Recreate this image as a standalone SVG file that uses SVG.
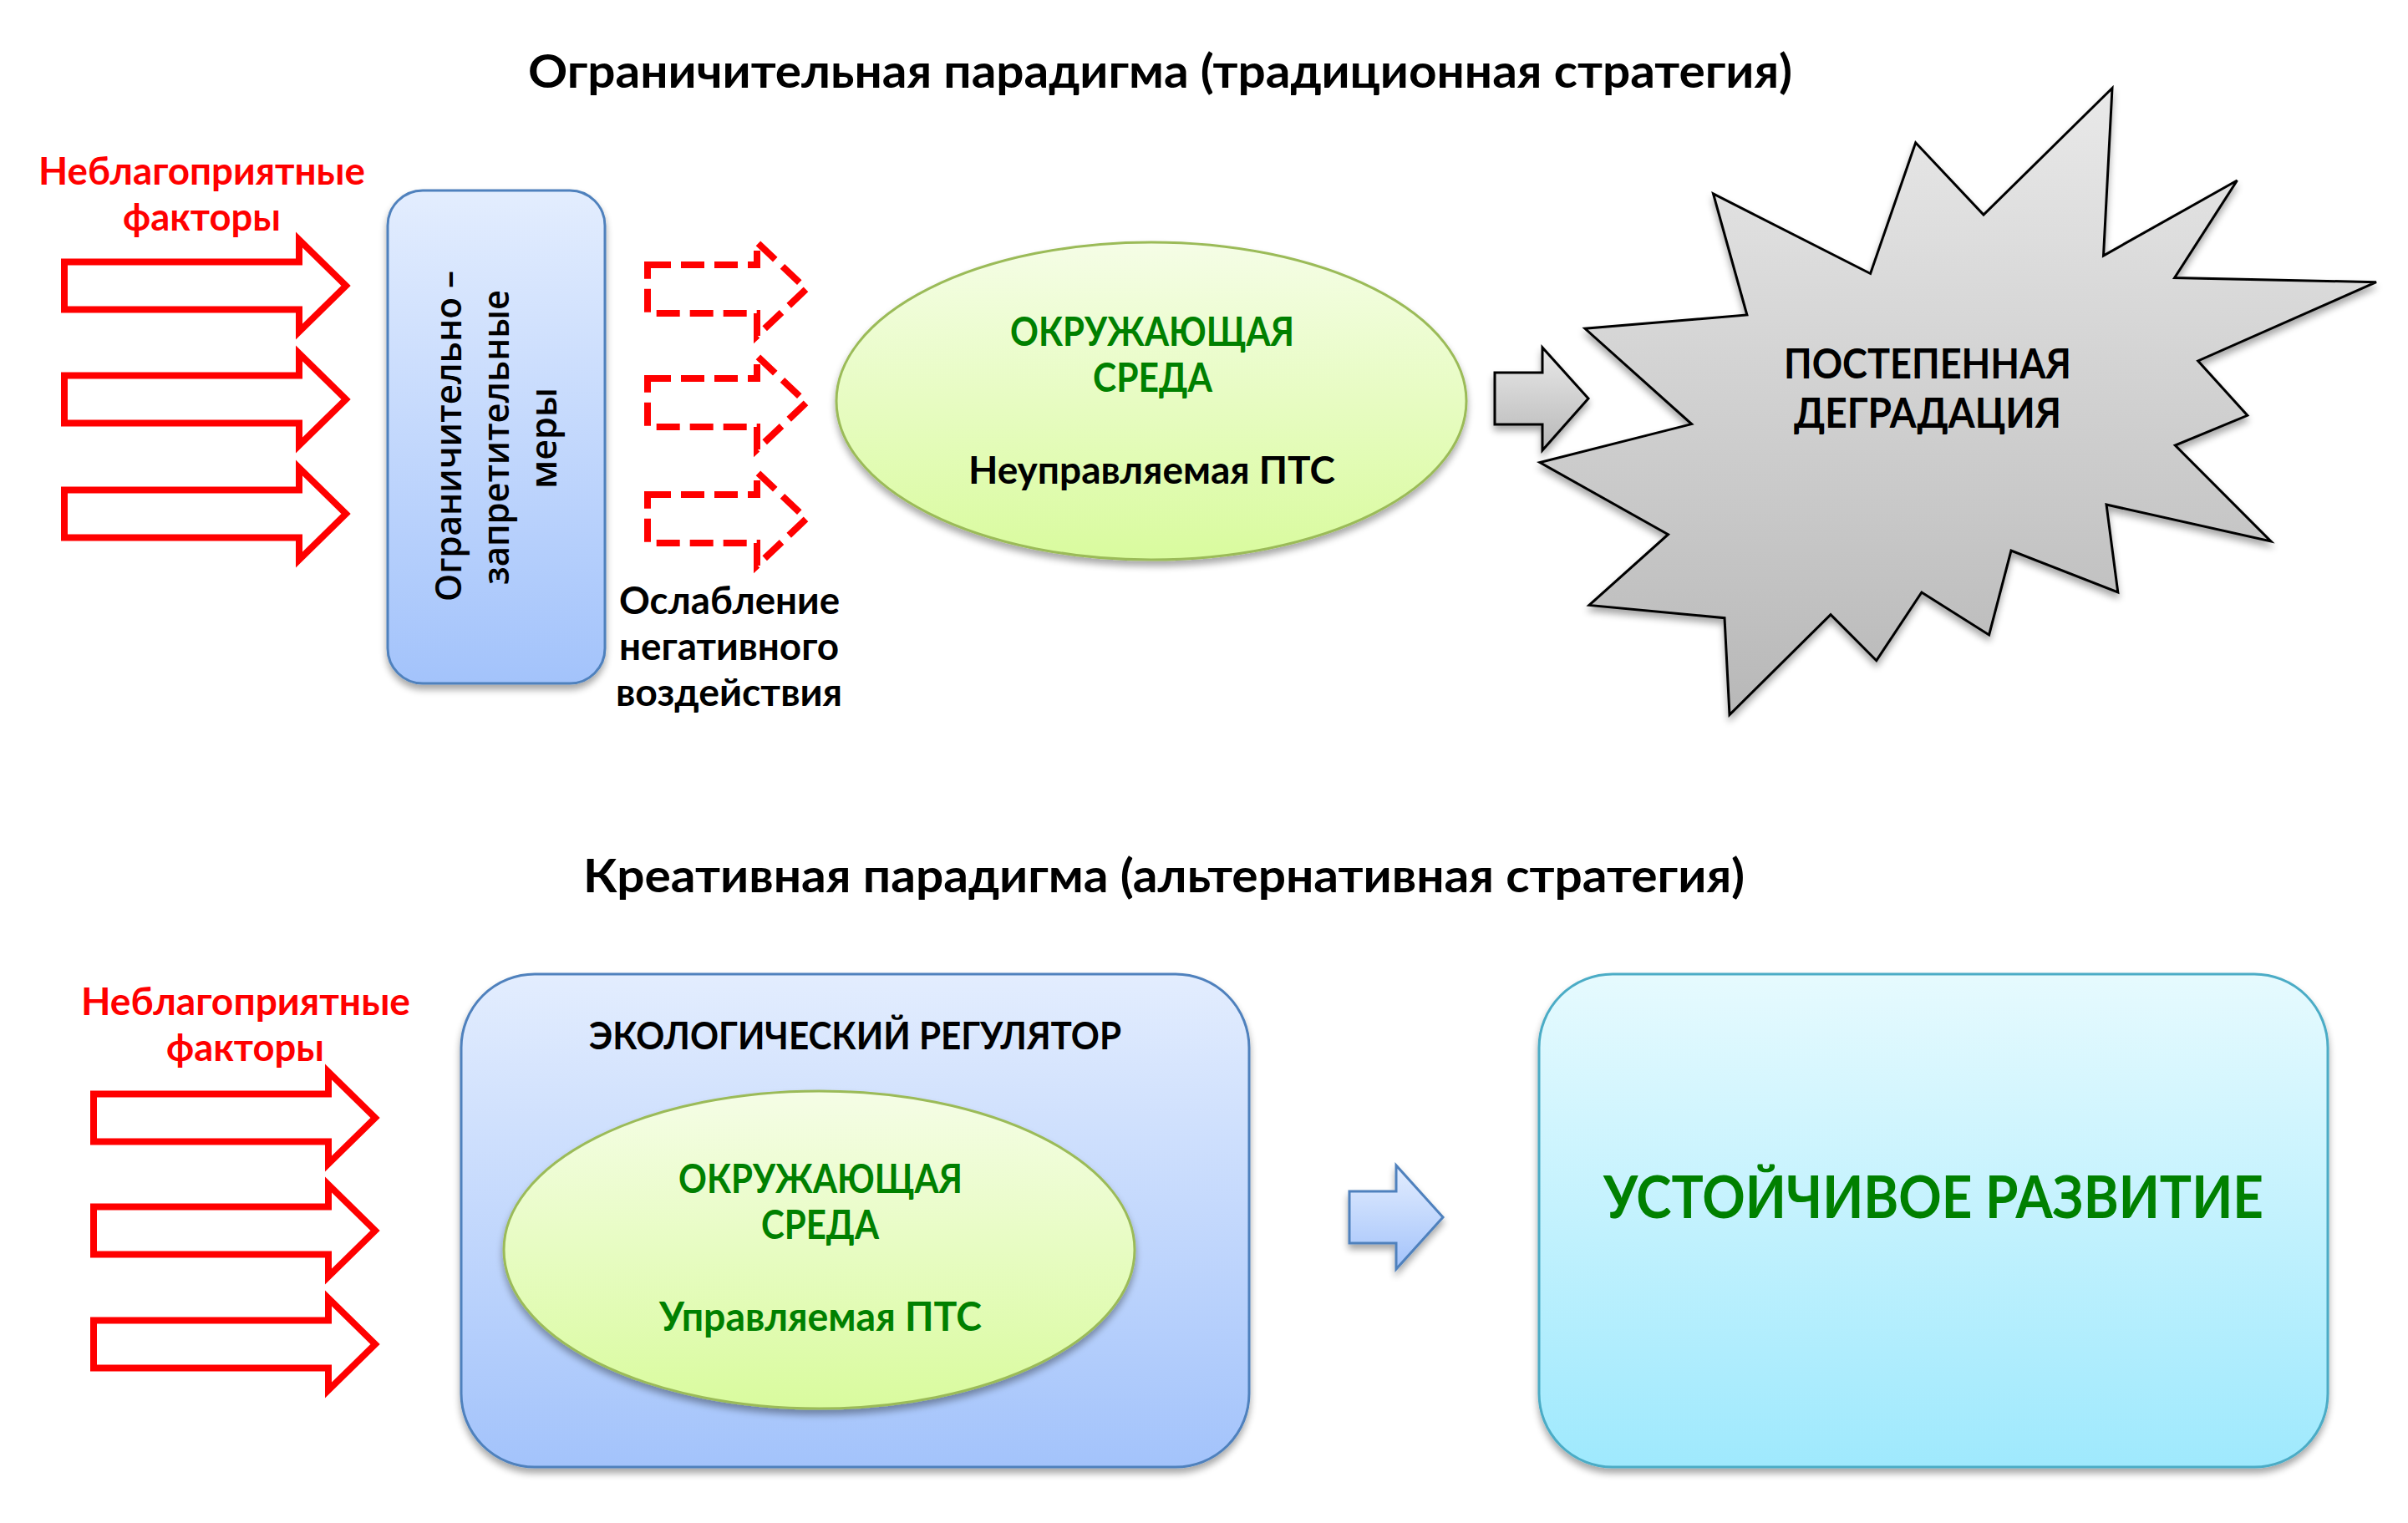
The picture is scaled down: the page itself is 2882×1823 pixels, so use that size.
<svg xmlns="http://www.w3.org/2000/svg" width="2882" height="1823" viewBox="0 0 2882 1823">
<style>
text{font-family:"Lato","Noto Sans","Open Sans",sans-serif;font-weight:700}
.t{font-size:56px;fill:#000}
.m{font-size:46px;fill:#000}
.r{font-size:46px;fill:#f00}
.g{font-size:48px;fill:#008000}
.d{font-size:50px;fill:#000}
.v{font-family:"Open Sans","Noto Sans",sans-serif;font-weight:600;font-size:43px;fill:#000}
.big{font-size:70px;fill:#008000}
.solid{fill:#fff;stroke:#f00;stroke-width:8;stroke-miterlimit:10}
.dash{fill:#fff;stroke:#f00;stroke-width:8;stroke-miterlimit:10;stroke-dasharray:28 12}
.shadow{filter:url(#sh)}
</style>
<defs>
<linearGradient id="blue" x1="0" y1="0" x2="0" y2="1"><stop offset="0" stop-color="#e3edfe"/><stop offset="1" stop-color="#a3c3fb"/></linearGradient>
<linearGradient id="green" x1="0" y1="0" x2="0" y2="1"><stop offset="0" stop-color="#f5fde6"/><stop offset="1" stop-color="#d9fb9e"/></linearGradient>
<linearGradient id="gray" x1="0" y1="0" x2="0" y2="1"><stop offset="0" stop-color="#e9e9e9"/><stop offset="1" stop-color="#b8b8b8"/></linearGradient>
<linearGradient id="cyan" x1="0" y1="0" x2="0" y2="1"><stop offset="0" stop-color="#e6fafe"/><stop offset="1" stop-color="#9fe9fd"/></linearGradient>
<filter id="sh" x="-10%" y="-10%" width="120%" height="125%"><feGaussianBlur in="SourceAlpha" stdDeviation="4"/><feOffset dy="6"/><feComponentTransfer><feFuncA type="linear" slope="0.35"/></feComponentTransfer><feMerge><feMergeNode/><feMergeNode in="SourceGraphic"/></feMerge></filter>
<path id="ra" d="M0,-28.500H281V-55L337,0L281,55V28.500H0Z"/>
<path id="da" d="M0,-29H131V-56L190,0L131,56V29H0Z"/>
</defs>
<g id="title-1"><text class="t" x="632" y="105" textLength="1513" lengthAdjust="spacingAndGlyphs">Ограничительная парадигма (традиционная стратегия)</text></g>
<g id="title-2"><text class="t" x="698" y="1068" textLength="1390" lengthAdjust="spacingAndGlyphs">Креативная парадигма (альтернативная стратегия)</text></g>
<g id="factors-1"><text class="r" x="46" y="221" textLength="391" lengthAdjust="spacingAndGlyphs">Неблагоприятные</text><text class="r" x="147" y="276" textLength="189" lengthAdjust="spacingAndGlyphs">факторы</text></g>
<g id="factors-2"><text class="r" x="97" y="1215" textLength="394" lengthAdjust="spacingAndGlyphs">Неблагоприятные</text><text class="r" x="199" y="1270" textLength="189" lengthAdjust="spacingAndGlyphs">факторы</text></g>
<g id="measures"><rect class="shadow" x="464" y="228" width="260" height="590" rx="42" fill="url(#blue)" stroke="#4f81bd" stroke-width="3"/>
<text class="v" transform="translate(552 720) rotate(-90)" textLength="396" lengthAdjust="spacingAndGlyphs">Ограничительно –</text>
<text class="v" transform="translate(609 700) rotate(-90)" textLength="353" lengthAdjust="spacingAndGlyphs">запретительные</text>
<text class="v" transform="translate(666 585) rotate(-90)" textLength="121" lengthAdjust="spacingAndGlyphs">меры</text></g>
<g id="weakening"><text class="m" x="741" y="735" textLength="264" lengthAdjust="spacingAndGlyphs">Ослабление</text><text class="m" x="741" y="790" textLength="263" lengthAdjust="spacingAndGlyphs">негативного</text><text class="m" x="737" y="845" textLength="271" lengthAdjust="spacingAndGlyphs">воздействия</text></g>
<g id="environment-1"><ellipse class="shadow" cx="1378" cy="480" rx="377" ry="190" fill="url(#green)" stroke="#9bbb59" stroke-width="3"/>
<text class="g" x="1209" y="414" textLength="340" lengthAdjust="spacingAndGlyphs">ОКРУЖАЮЩАЯ</text><text class="g" x="1308" y="469" textLength="143" lengthAdjust="spacingAndGlyphs">СРЕДА</text>
<text class="m" x="1159" y="579" textLength="439" lengthAdjust="spacingAndGlyphs">Неуправляемая ПТС</text></g>
<g id="degradation"><path class="shadow" fill="url(#gray)" stroke="#000" stroke-width="3" d="M2528,105.500L2517.500,306L2677.500,216L2602.600,332.500L2844,337.700L2630.700,432L2689.800,497.300L2603.300,533L2717.900,647.900L2521,604L2534.800,709L2407,659L2380.600,760L2299.900,709L2245.800,790.700L2191,735.600L2070,855.500L2064,739.700L1902,724.400L1996.500,639.700L1843,553.500L2024.600,507.600L1897,393.300L2090.900,377L2050.500,232L2238.600,327.500L2292.700,170.800L2374,257Z"/>
<text class="d" x="2135" y="453" textLength="344" lengthAdjust="spacingAndGlyphs">ПОСТЕПЕННАЯ</text><text class="d" x="2147" y="512" textLength="320" lengthAdjust="spacingAndGlyphs">ДЕГРАДАЦИЯ</text></g>
<g id="regulator"><rect class="shadow" x="552" y="1166" width="943" height="590" rx="88" fill="url(#blue)" stroke="#4f81bd" stroke-width="3"/>
<text class="m" x="705" y="1256" textLength="637" lengthAdjust="spacingAndGlyphs">ЭКОЛОГИЧЕСКИЙ РЕГУЛЯТОР</text></g>
<g id="environment-2"><ellipse class="shadow" cx="980.500" cy="1496" rx="377.500" ry="190" fill="url(#green)" stroke="#9bbb59" stroke-width="3"/>
<text class="g" x="812" y="1428" textLength="340" lengthAdjust="spacingAndGlyphs">ОКРУЖАЮЩАЯ</text><text class="g" x="911" y="1483" textLength="141" lengthAdjust="spacingAndGlyphs">СРЕДА</text>
<text class="g" x="789" y="1593" textLength="386" lengthAdjust="spacingAndGlyphs">Управляемая ПТС</text></g>
<g id="sustainable"><rect class="shadow" x="1842" y="1166" width="944" height="590" rx="88" fill="url(#cyan)" stroke="#4bacc6" stroke-width="3"/>
<text class="big" x="1919" y="1458" textLength="790" lengthAdjust="spacingAndGlyphs">УСТОЙЧИВОЕ РАЗВИТИЕ</text></g>
<g id="connectors">
<use href="#ra" class="solid" x="77" y="342"/><use href="#ra" class="solid" x="77" y="478"/><use href="#ra" class="solid" x="77" y="615"/>
<use href="#da" class="dash" x="775" y="346"/><use href="#da" class="dash" x="775" y="482"/><use href="#da" class="dash" x="775" y="621"/>
<path class="shadow" fill="url(#gray)" stroke="#000" stroke-width="3" d="M1789,446H1846V416L1901,477L1846,539V508H1789Z"/>
<use href="#ra" class="solid" x="112" y="1338"/><use href="#ra" class="solid" x="112" y="1473"/><use href="#ra" class="solid" x="112" y="1609"/>
<path class="shadow" fill="url(#blue)" stroke="#4f81bd" stroke-width="3" d="M1615,1426H1671V1395L1727,1457L1671,1519V1488H1615Z"/>
</g>
</svg>
